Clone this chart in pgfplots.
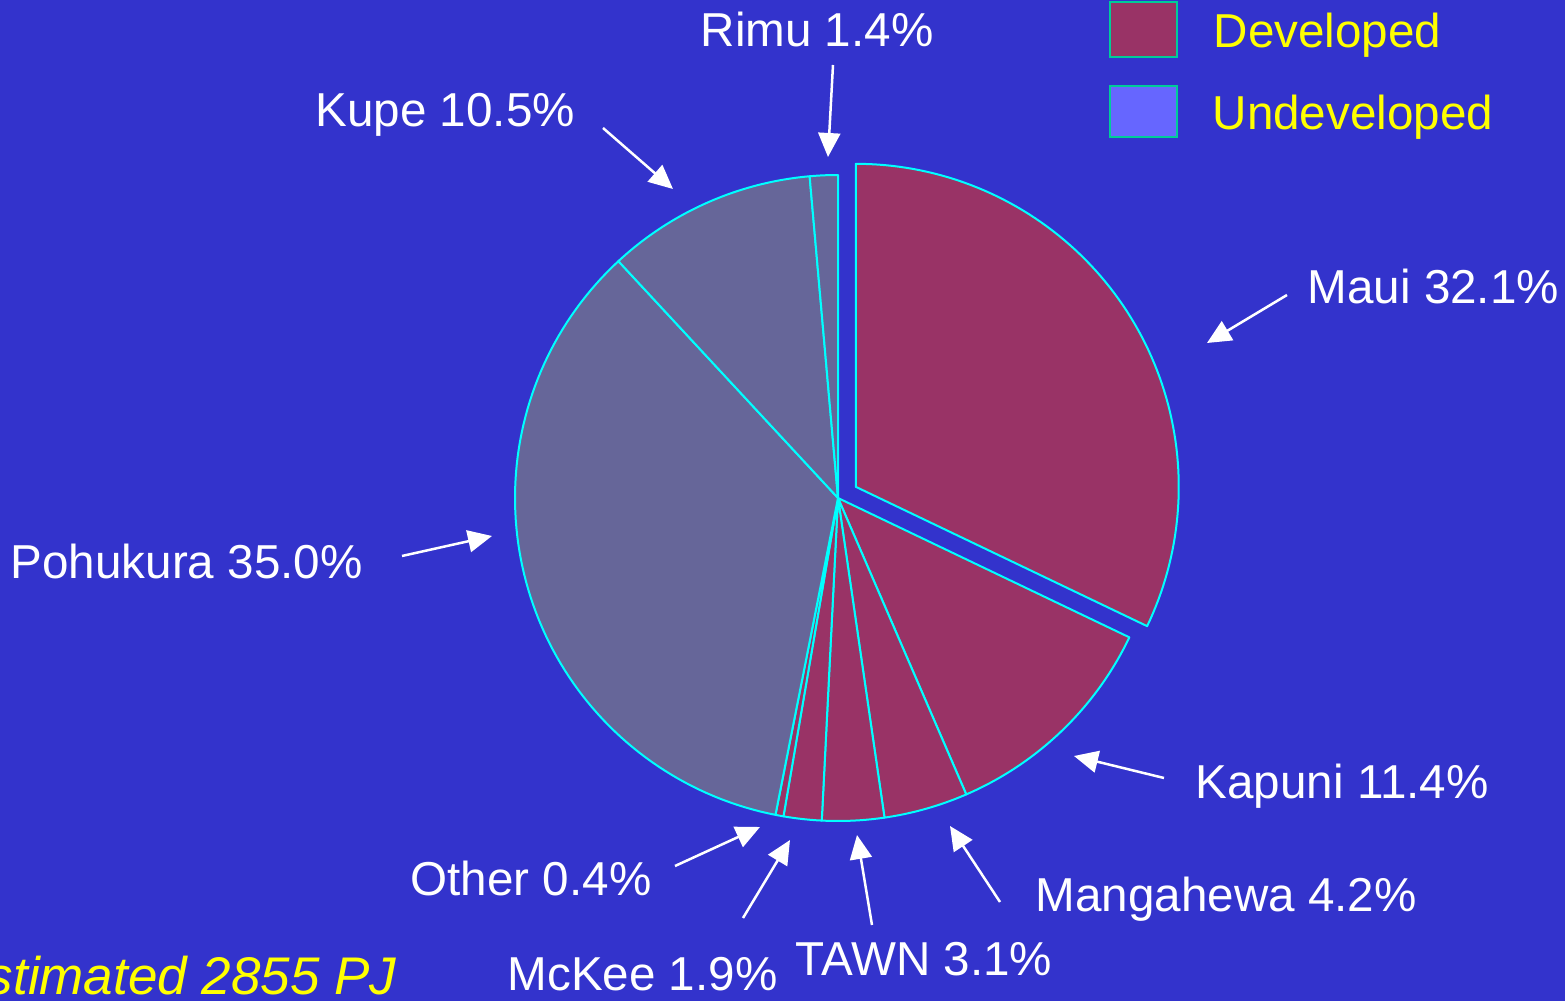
\documentclass[border=0pt]{standalone}
\usepackage{pgfplots}
\pgfplotsset{compat=1.18}
\usepackage{pgfplotstable}
\usetikzlibrary{arrows.meta}
\usepackage{fontspec}
\setmainfont{Liberation Sans}
\definecolor{bg}{HTML}{3333CC}
\definecolor{devcol}{HTML}{993366}
\definecolor{undevcol}{HTML}{666699}
\definecolor{legundev}{HTML}{6666FF}
\definecolor{legborder}{HTML}{00CC99}
\definecolor{outline}{HTML}{00FFFF}
\definecolor{ylw}{HTML}{FFFF00}

\pgfplotstableread{
name value dev explode
Maui 32.1 1 21
Kapuni 11.4 1 0
Mangahewa 4.2 1 0
TAWN 3.1 1 0
McKee 1.9 1 0
Other 0.4 1 0
Pohukura 35.0 0 0
Kupe 10.5 0 0
Rimu 1.4 0 0
}\piedata

\begin{document}
\begin{tikzpicture}
\def\cum{0}
\pgfplotsforeachungrouped \i in {0,...,8}{%
  \pgfplotstablegetelem{\i}{value}\of\piedata \let\v\pgfplotsretval
  \pgfmathsetmacro\wa{90-(\cum+\v)*3.6}%
  \pgfmathsetmacro\wb{90-\cum*3.6}%
  \pgfmathsetmacro\wm{(\wa+\wb)/2}%
  \pgfplotstablegetelem{\i}{explode}\of\piedata \let\ex\pgfplotsretval
  \pgfmathsetmacro\wx{838+\ex*cos(\wm)}%
  \pgfmathsetmacro\wy{503+\ex*sin(\wm)}%
  \expandafter\xdef\csname wa\i\endcsname{\wa}%
  \expandafter\xdef\csname wb\i\endcsname{\wb}%
  \expandafter\xdef\csname wx\i\endcsname{\wx}%
  \expandafter\xdef\csname wy\i\endcsname{\wy}%
  \pgfplotstablegetelem{\i}{dev}\of\piedata
  \ifnum\pgfplotsretval=1 \expandafter\xdef\csname wc\i\endcsname{devcol}\else\expandafter\xdef\csname wc\i\endcsname{undevcol}\fi
  \pgfmathsetmacro\cum{\cum+\v}%
}
\fill[bg] (0,0) rectangle (469.5pt,300.3pt);
\begin{axis}[at={(0,0)}, anchor=south west, scale only axis,
  width=469.5pt, height=300.3pt,
  xmin=0, xmax=1565, ymin=0, ymax=1001, hide axis, clip=false]
\pgfplotsinvokeforeach{0,...,8}{
  \edef\temp{\noexpand\addplot[fill=\csname wc#1\endcsname, draw=outline, line width=0.6pt, line join=round,
    domain=\csname wa#1\endcsname:\csname wb#1\endcsname, samples=90]
    ({\csname wx#1\endcsname+323*cos(\noexpand\x)},{\csname wy#1\endcsname+323*sin(\noexpand\x)})
    -- (axis cs:\csname wx#1\endcsname,\csname wy#1\endcsname) -- cycle;}
  \temp
}
% labels
\tikzset{lab/.style={anchor=base west, inner sep=0pt, text=white, font=\fontsize{14.28}{17}\selectfont},
         arr/.style={white, line width=0.75pt, -{Triangle[length=7.2pt,width=6.6pt]}}}
\node[lab] at (axis cs:700,954) {Rimu 1.4\%};
\node[lab] at (axis cs:315,874) {Kupe 10.5\%};
\node[lab] at (axis cs:1307,697) {Maui 32.1\%};
\node[lab] at (axis cs:10,422) {Pohukura 35.0\%};
\node[lab] at (axis cs:1195,202) {Kapuni 11.4\%};
\node[lab] at (axis cs:1035,89) {Mangahewa 4.2\%};
\node[lab] at (axis cs:410,105) {Other 0.4\%};
\node[lab] at (axis cs:507,10) {McKee 1.9\%};
\node[lab] at (axis cs:795,25) {TAWN 3.1\%};
% arrows
\draw[arr] (axis cs:833,936) -- (axis cs:828,844);
\draw[arr] (axis cs:603,873) -- (axis cs:673,812);
\draw[arr] (axis cs:1287,706) -- (axis cs:1207,658);
\draw[arr] (axis cs:402,445) -- (axis cs:492,465);
\draw[arr] (axis cs:1164,223) -- (axis cs:1074,245);
\draw[arr] (axis cs:1000,99) -- (axis cs:950,175);
\draw[arr] (axis cs:872,76) -- (axis cs:857,166);
\draw[arr] (axis cs:743,83) -- (axis cs:790,161);
\draw[arr] (axis cs:675,135) -- (axis cs:760,174);
% legend
\filldraw[fill=devcol, draw=legborder, line width=0.6pt] (axis cs:1110,944) rectangle (axis cs:1177,999);
\filldraw[fill=legundev, draw=legborder, line width=0.6pt] (axis cs:1110,864) rectangle (axis cs:1177,915);
\node[lab, text=ylw] at (axis cs:1213,953) {Developed};
\node[lab, text=ylw] at (axis cs:1212,871) {Undeveloped};
\node[anchor=base east, inner sep=0pt, text=ylw, font=\fontsize{15.9}{19}\selectfont\itshape] at (axis cs:397,6) {Estimated 2855 PJ};
\end{axis}
\pgfresetboundingbox
\useasboundingbox (0,0) rectangle (469.5pt,300.3pt);
\end{tikzpicture}
\end{document}
